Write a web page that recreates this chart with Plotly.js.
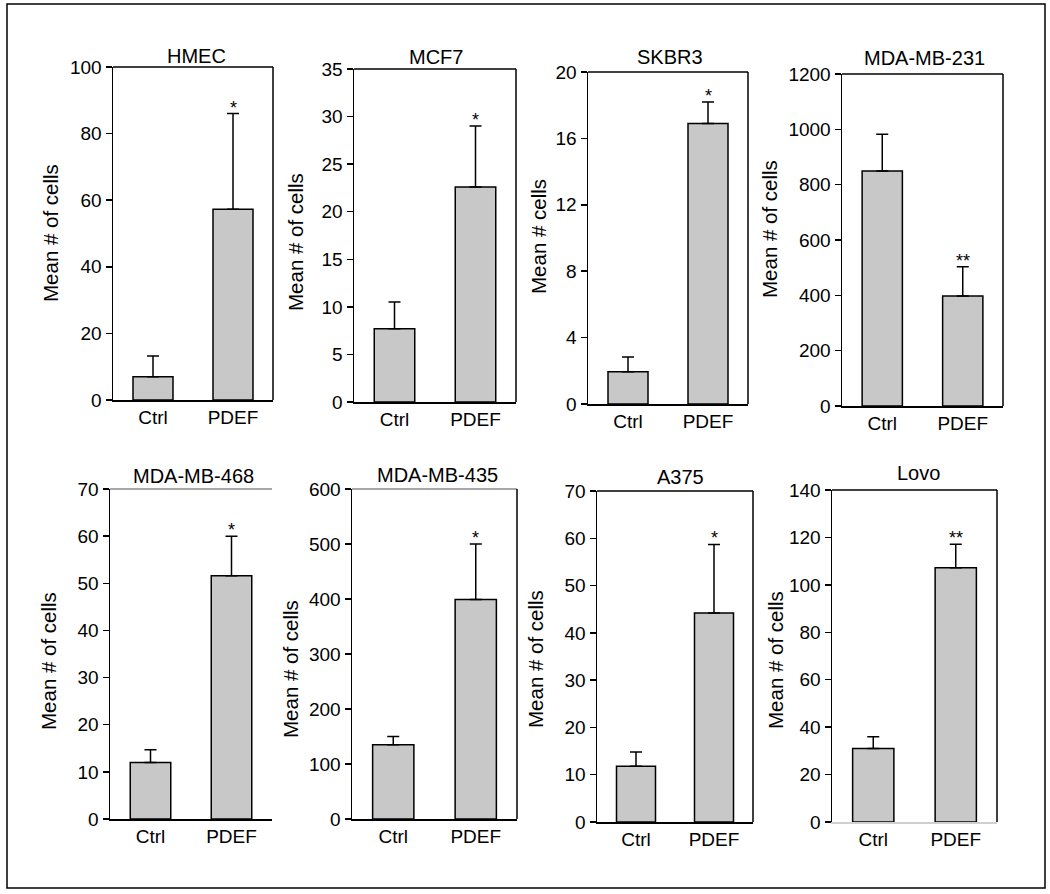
<!DOCTYPE html>
<html>
<head>
<meta charset="utf-8">
<script src="https://cdn.plot.ly/plotly-3.0.1.min.js"></script>
<style>html,body{margin:0;padding:0;background:#fff;}#chart{width:1050px;height:894px;}</style>
</head>
<body>
<div id="chart"></div>
<script>
// ---- data ----
const categories = ['Ctrl', 'PDEF'];
const cellLines = ['HMEC', 'MCF7', 'SKBR3', 'MDA-MB-231', 'MDA-MB-468', 'MDA-MB-435', 'A375', 'Lovo'];
const meanCtrl = [7.0, 7.7, 1.95, 849, 12.0, 135, 11.8, 31.0];
const meanPDEF = [57.3, 22.6, 16.9, 398, 51.6, 399, 44.2, 107.2];
const errCtrl = [6.2, 2.8, 0.88, 133, 2.7, 15, 3.0, 4.9];
const errPDEF = [28.7, 6.4, 1.3, 105, 8.4, 101, 14.5, 9.9];
const significance = ['*', '*', '*', '**', '*', '*', '*', '**'];
const yMax = [100, 35, 20, 1200, 70, 600, 70, 140];
const yStep = [20, 5, 4, 200, 10, 100, 10, 20];
const yTitles = ['Mean # of cells', 'Mean # of cells', 'Mean # cells', 'Mean # of cells',
                 'Mean # of cells', 'Mean # of cells', 'Mean # of cells', 'Mean # of cells'];

// ---- layout geometry (pixels) ----
const W = 1050, H = 894;
const boxes = [ // left, right, top, bottom
  [113, 273, 67, 400], [354, 516, 69, 402], [588, 748, 72, 404], [842, 1003, 74, 406],
  [110, 272, 489, 819], [352, 517, 489, 819], [597, 753, 491, 822], [832, 997, 490, 822]
];
const titlePos = [[196, 56], [436, 57], [670, 57], [924, 58], [193, 476], [437, 475], [680, 477], [918, 473]];
const yTitlePos = [[51, 233], [296, 242], [538, 237], [770, 229], [48, 661], [290, 669], [535, 659], [775, 660]];
// frame style: [top line color or null, right line color or null, bottom line color]
const frames = [
  ['#000', '#000', '#000'], ['#000', '#000', '#000'], ['#000', '#000', '#000'], ['#000', '#000', '#000'],
  ['#8a8a8a', null, '#000'], ['#8a8a8a', '#000', '#000'], ['#000', '#000', '#000'], ['#000', '#000', '#d0d0d0']
];
const px = p => p / W;
const py = p => 1 - p / H;
const FONT = 'Liberation Sans, Arial, Helvetica, sans-serif';

const data = [];
const layout = {
  width: W, height: H,
  margin: {l: 0, r: 0, t: 0, b: 0},
  paper_bgcolor: '#fff', plot_bgcolor: '#fff',
  showlegend: false,
  font: {family: FONT, color: '#000', size: 19},
  annotations: [],
  shapes: [{
    type: 'rect', xref: 'paper', yref: 'paper',
    x0: px(7), x1: px(1045), y0: py(888), y1: py(4),
    line: {color: '#000', width: 1.5}
  }]
};

cellLines.forEach((name, i) => {
  const n = i + 1;
  const xs = n === 1 ? 'x' : 'x' + n;
  const ys = n === 1 ? 'y' : 'y' + n;
  const xk = n === 1 ? 'xaxis' : 'xaxis' + n;
  const yk = n === 1 ? 'yaxis' : 'yaxis' + n;
  const b = boxes[i];
  const fr = frames[i];

  data.push({
    type: 'bar', xaxis: xs, yaxis: ys,
    x: categories, y: [meanCtrl[i], meanPDEF[i]],
    width: 0.5,
    marker: {color: '#c8c8c8', line: {color: '#000', width: 1.5}},
    error_y: {type: 'data', symmetric: false, array: [errCtrl[i], errPDEF[i]], arrayminus: [0, 0],
              color: '#000', thickness: 1.5, width: 6},
    hoverinfo: 'skip'
  });

  layout[xk] = {
    domain: [px(b[0]), px(b[1])], anchor: ys,
    type: 'category', range: [-0.5, 1.5],
    showline: true, linecolor: fr[2], linewidth: 1.5, mirror: false,
    ticks: '', showgrid: false, zeroline: false,
    tickfont: {family: FONT, size: 19, color: '#000'}, fixedrange: true
  };
  layout[yk] = {
    domain: [py(b[3]), py(b[2])], anchor: xs,
    range: [0, yMax[i]], tick0: 0, dtick: yStep[i],
    showline: true, linecolor: '#000', linewidth: 1.5, mirror: false,
    ticks: 'outside', ticklen: 6, tickwidth: 1.5, tickcolor: '#000',
    showgrid: false, zeroline: false,
    tickfont: {family: FONT, size: 19, color: '#000'}, fixedrange: true
  };

  if (fr[0]) layout.shapes.push({type: 'line', xref: xs + ' domain', yref: ys + ' domain',
    x0: 0, x1: 1, y0: 1, y1: 1, line: {color: fr[0], width: 1.5}});
  if (fr[1]) layout.shapes.push({type: 'line', xref: xs + ' domain', yref: ys + ' domain',
    x0: 1, x1: 1, y0: 0, y1: 1, line: {color: fr[1], width: 1.5}});

  layout.annotations.push({
    xref: 'paper', yref: 'paper', x: px(titlePos[i][0]), y: py(titlePos[i][1]),
    xanchor: 'center', yanchor: 'middle', showarrow: false,
    text: name, font: {family: FONT, size: 20, color: '#000'}
  });
  layout.annotations.push({
    xref: 'paper', yref: 'paper', x: px(yTitlePos[i][0]), y: py(yTitlePos[i][1]),
    xanchor: 'center', yanchor: 'middle', showarrow: false, textangle: -90,
    text: yTitles[i], font: {family: FONT, size: 20.5, color: '#000'}
  });
  layout.annotations.push({
    xref: xs, yref: ys, x: categories[1], y: meanPDEF[i] + errPDEF[i],
    xanchor: 'center', yanchor: 'bottom', showarrow: false, yshift: -6,
    text: significance[i], font: {family: FONT, size: 18, color: '#000'}
  });
});

Plotly.newPlot('chart', data, layout, {displayModeBar: false, staticPlot: true});
</script>
</body>
</html>
